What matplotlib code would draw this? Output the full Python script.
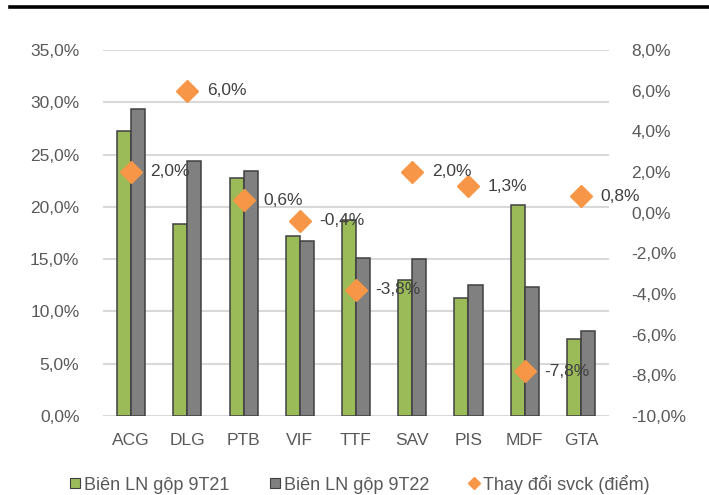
import matplotlib
matplotlib.use("Agg")
import matplotlib.pyplot as plt
from matplotlib.lines import Line2D
import numpy as np

categories = ["ACG", "DLG", "PTB", "VIF", "TTF", "SAV", "PIS", "MDF", "GTA"]
margin_9t21 = [27.3, 18.4, 22.8, 17.2, 18.7, 13.0, 11.3, 20.2, 7.4]
margin_9t22 = [29.4, 24.4, 23.4, 16.7, 15.1, 15.0, 12.5, 12.3, 8.1]
change_pts = [2.0, 6.0, 0.6, -0.4, -3.8, 2.0, 1.3, -7.8, 0.8]
series_names = ["Biên LN gộp 9T21", "Biên LN gộp 9T22", "Thay đổi svck (điểm)"]

GREEN = "#9BBB59"
GRAY = "#808080"
ORANGE = "#F79646"
EDGE = "#404040"
TXT = "#595959"

plt.rcParams['font.family'] = ['Liberation Sans', 'DejaVu Sans']

def pct(v):
    return f"{v:.1f}%".replace(".", ",")

fig = plt.figure(figsize=(7.09, 4.95), dpi=100)
ax = fig.add_axes([103/709, 1-416/495, (609-103)/709, (416-50)/495])

x = np.arange(len(categories))
w = 0.25
ax.bar(x - w/2, margin_9t21, width=w, color=GREEN, edgecolor=EDGE, linewidth=1.1, zorder=2)
ax.bar(x + w/2, margin_9t22, width=w, color=GRAY, edgecolor=EDGE, linewidth=1.1, zorder=2)

ax.set_xlim(-0.5, len(categories) - 0.5)
ax.set_ylim(0, 35)
ax.set_yticks(np.arange(0, 35.1, 5))
ax.set_yticklabels([pct(v) for v in np.arange(0, 35.1, 5)])
ax.set_xticks(x)
ax.set_xticklabels(categories)
ax.grid(axis='y', color="#D9D9D9", linewidth=1.5, zorder=0)
ax.set_axisbelow(True)
for s in ax.spines.values():
    s.set_visible(False)
ax.tick_params(axis='y', length=0, pad=17, labelsize=12.5, labelcolor=TXT)
ax.tick_params(axis='x', length=0, pad=12, labelsize=12.5, labelcolor=TXT)

ax2 = ax.twinx()
ax2.set_ylim(-10, 8)
rt = np.arange(-10, 8.1, 2)
ax2.set_yticks(rt)
ax2.set_yticklabels([pct(v) for v in rt])
for s in ax2.spines.values():
    s.set_visible(False)
ax2.tick_params(axis='y', length=0, pad=16, labelsize=12.5, labelcolor=TXT)
ax2.plot(x, change_pts, linestyle='none', marker='D', markersize=11.5, color=ORANGE, zorder=3)
for xi, v in zip(x, change_pts):
    ax2.annotate(pct(v), (xi, v), xytext=(14, 0), textcoords='offset points',
                 ha='left', va='center', fontsize=12.5, color="#404040", zorder=4)

fig.add_artist(Line2D([10/709, 1], [1-7/495, 1-7/495], color="black", linewidth=2.6,
                      transform=fig.transFigure))

handles = [
    Line2D([], [], linestyle='none', marker='s', markersize=7, markerfacecolor=GREEN, markeredgecolor=EDGE, markeredgewidth=0.8),
    Line2D([], [], linestyle='none', marker='s', markersize=7, markerfacecolor=GRAY, markeredgecolor=EDGE, markeredgewidth=0.8),
    Line2D([], [], linestyle='none', marker='D', markersize=6, color=ORANGE),
]
leg = fig.legend(handles, series_names, loc='center', bbox_to_anchor=(360/709, 1-484/495),
                 ncol=3, frameon=False, fontsize=13, handlelength=0.6, handletextpad=0.2,
                 columnspacing=2.2, borderaxespad=0)
for t in leg.get_texts():
    t.set_color(TXT)

fig.savefig("out.png", dpi=100)
